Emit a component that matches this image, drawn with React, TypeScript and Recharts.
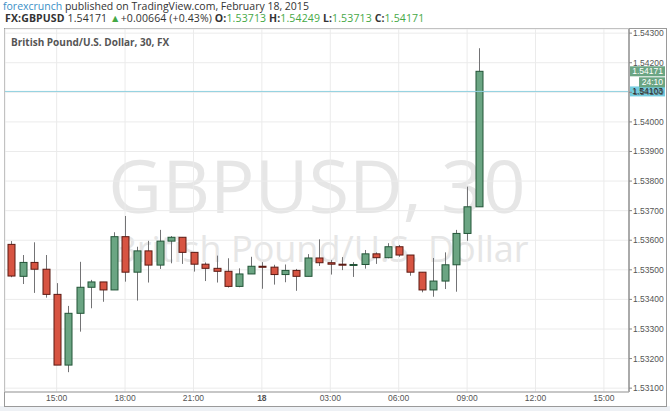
import React from "react";
import { ComposedChart, Bar, XAxis, YAxis, CartesianGrid, ReferenceLine } from "recharts";

// 30 minute candles, Feb 17 13:00 -> Feb 18 09:30
const times = [
  "13:00", "13:30", "14:00", "14:30", "15:00", "15:30", "16:00", "16:30", "17:00", "17:30",
  "18:00", "18:30", "19:00", "19:30", "20:00", "20:30", "21:00", "21:30", "22:00", "22:30",
  "23:00", "23:30", "00:00", "00:30", "01:00", "01:30", "02:00", "02:30", "03:00", "03:30",
  "04:00", "04:30", "05:00", "05:30", "06:00", "06:30", "07:00", "07:30", "08:00", "08:30",
  "09:00", "09:30",
];

const open = [
  1.53586, 1.53478, 1.53525, 1.53502, 1.53417, 1.53178, 1.53353, 1.53441, 1.53459, 1.53432,
  1.53612, 1.53492, 1.53564, 1.53516, 1.53597, 1.5361, 1.53559, 1.53519, 1.53505, 1.53495,
  1.53444, 1.53486, 1.53512, 1.53509, 1.53484, 1.53498, 1.53478, 1.5354, 1.53524, 1.53519,
  1.53516, 1.53518, 1.53554, 1.53541, 1.53578, 1.5355, 1.53492, 1.53432, 1.53462, 1.53517,
  1.53623, 1.53713,
];
const high = [
  1.53597, 1.5355, 1.53593, 1.5355, 1.53455, 1.53378, 1.53527, 1.53466, 1.53459, 1.53627,
  1.53682, 1.53578, 1.53598, 1.53635, 1.53614, 1.5361, 1.53559, 1.53525, 1.53548, 1.53539,
  1.53505, 1.53544, 1.53526, 1.53517, 1.53518, 1.53503, 1.53553, 1.53603, 1.53533, 1.53543,
  1.53526, 1.53567, 1.53559, 1.5359, 1.53584, 1.5355, 1.53492, 1.5354, 1.53559, 1.53635,
  1.53781, 1.54249,
];
const low = [
  1.53475, 1.53452, 1.53422, 1.53406, 1.53178, 1.53154, 1.53291, 1.5337, 1.53392, 1.53432,
  1.5346, 1.53396, 1.53457, 1.53503, 1.53522, 1.5352, 1.53494, 1.53462, 1.53457, 1.5344,
  1.53441, 1.53486, 1.53436, 1.5345, 1.53458, 1.53429, 1.53478, 1.53513, 1.53484, 1.53499,
  1.53476, 1.53504, 1.5352, 1.53539, 1.53544, 1.5348, 1.53424, 1.53409, 1.53435, 1.53426,
  1.53598, 1.53713,
];
const close = [
  1.53479, 1.53525, 1.53502, 1.53417, 1.53178, 1.53353, 1.53441, 1.53459, 1.53432, 1.53612,
  1.53492, 1.53564, 1.53516, 1.53597, 1.5361, 1.53559, 1.53519, 1.53505, 1.53495, 1.53444,
  1.53486, 1.53512, 1.53509, 1.53484, 1.53498, 1.53478, 1.5354, 1.53524, 1.53519, 1.53516,
  1.53518, 1.53554, 1.53541, 1.53578, 1.5355, 1.53492, 1.53432, 1.53462, 1.53517, 1.53623,
  1.53713, 1.54171,
];

const xTickIdx = [4, 10, 16, 22, 28, 34, 40, 46, 52];
const xTickLabels = ["15:00", "18:00", "21:00", "18", "03:00", "06:00", "09:00", "12:00", "15:00"];
const yTicks = [1.531, 1.532, 1.533, 1.534, 1.535, 1.536, 1.537, 1.538, 1.539, 1.54, 1.541, 1.542, 1.543];

const bidPrice = 1.54103;
const lastPrice = 1.54171;
const countdown = "24:10";

const UP = "#6ba583";
const DOWN = "#d75442";

const data = times.map((t, i) => ({
  i,
  time: t,
  open: open[i],
  high: high[i],
  low: low[i],
  close: close[i],
  range: [low[i], high[i]],
}));

const Candle = (props: any) => {
  const { x, y, width, height, payload } = props;
  if (!payload || height == null) return null;
  const { open: o, close: c, high: h, low: l } = payload;
  const k = height / (h - l);
  const py = (p: number) => y + (h - p) * k;
  const up = c >= o;
  const cx = Math.round(x + width / 2) + 0.5;
  const top = py(Math.max(o, c));
  const bot = py(Math.min(o, c));
  return (
    <g>
      <line x1={cx} x2={cx} y1={y} y2={y + height} stroke="#737375" strokeWidth={1} />
      <rect
        x={cx - 3.5}
        y={top}
        width={7}
        height={Math.max(bot - top, 1)}
        fill={up ? UP : DOWN}
        stroke={up ? "#225437" : "#5b1a13"}
        strokeWidth={1}
      />
    </g>
  );
};

const XTick = ({ x, y, payload }: any) => {
  const label = xTickLabels[xTickIdx.indexOf(payload.value)];
  return (
    <text
      x={x}
      y={y + 9}
      textAnchor="middle"
      fontSize={8.5}
      fill="#555"
      fontFamily="'Liberation Sans', Arial, sans-serif"
      fontWeight={label === "18" ? "bold" : "normal"}
    >
      {label}
    </text>
  );
};

// price badge drawn on the right axis
const badge = (value: string, fill: string, color: string, extra?: string) => (p: any) => {
  const vb = p.viewBox;
  const bx = vb.x + vb.width;
  const by = vb.y;
  return (
    <g>
      <rect x={bx + 1} y={by - 5} width={35} height={10} fill={fill} />
      <text x={bx + 34} y={by + 3} textAnchor="end" fontSize={8.5} fill={color}
        fontFamily="'Liberation Sans', Arial, sans-serif">
        {value}
      </text>
      {extra && (
        <g>
          <rect x={bx + 10} y={by + 6} width={26} height={10} fill={fill} />
          <text x={bx + 34} y={by + 14} textAnchor="end" fontSize={8.5} fill={color}
            fontFamily="'Liberation Sans', Arial, sans-serif">
            {extra}
          </text>
        </g>
      )}
    </g>
  );
};

export default function App() {
  const green = "#45a845";
  return (
    <div
      style={{
        position: "absolute",
        left: 0,
        top: 0,
        width: 670,
        height: 411,
        background: "#fff",
        overflow: "hidden",
        fontFamily: "'Open Sans', sans-serif",
        color: "#333",
      }}
    >
      <div style={{ position: "absolute", left: 3, top: 0, fontSize: 10.5, lineHeight: "13px", whiteSpace: "nowrap" }}>
        <span style={{ color: "#3a8fc7" }}>forexcrunch</span> published on TradingView.com, February 18, 2015
      </div>
      <div style={{ position: "absolute", left: 5, top: 12, fontSize: 10.5, lineHeight: "13px", letterSpacing: 0.13, whiteSpace: "nowrap" }}>
        <b>FX:GBPUSD</b> 1.54171 <span style={{ color: green }}>▲</span>+0.00664 (+0.43%){" "}
        <b>O:</b><span style={{ color: green }}>1.53713</span> <b>H:</b><span style={{ color: green }}>1.54249</span>{" "}
        <b>L:</b><span style={{ color: green }}>1.53713</span> <b>C:</b><span style={{ color: green }}>1.54171</span>
      </div>

      <div style={{ position: "absolute", left: 0, top: 406, width: 670, height: 5, background: "#eef1f5" }} />

      {/* watermark */}
      <svg style={{ position: "absolute", left: 0, top: 0 }} width={670} height={411}>
        <text x={317} y={213} textAnchor="middle" fontSize={74} fill="#e6e6e6" fontFamily="'Open Sans', sans-serif">
          GBPUSD, 30
        </text>
        <text x={321} y={262} textAnchor="middle" fontSize={36} fill="#e6e6e6" fontFamily="'Open Sans', sans-serif">
          British Pound/U.S. Dollar
        </text>
      </svg>

      <div
        style={{
          position: "absolute",
          left: 4,
          top: 28,
          width: 663,
          height: 379,
          border: "1px solid #9a9a9a",
          boxSizing: "border-box",
        }}
      />

      <div style={{ position: "absolute", left: 4, top: 28 }}>
        <ComposedChart width={663} height={379} data={data} margin={{ top: 1, right: 1, bottom: 1, left: 1 }}>
          <CartesianGrid stroke="#ebebeb" />
          <XAxis
            dataKey="i"
            type="number"
            domain={[-0.53, 54.2]}
            ticks={xTickIdx}
            interval={0}
            allowDataOverflow
            height={14}
            tickSize={0}
            tickMargin={0}
            axisLine={{ stroke: "#999" }}
            tick={<XTick />}
          />
          <YAxis
            orientation="right"
            type="number"
            width={37}
            domain={[1.53087, 1.54314]}
            ticks={yTicks}
            interval={0}
            allowDataOverflow
            tickSize={3}
            tickMargin={1}
            tickFormatter={(v: number) => v.toFixed(5)}
            axisLine={{ stroke: "#aaa", strokeWidth: 2 }}
            tickLine={{ stroke: "#888" }}
            tick={{ fontSize: 8.5, fill: "#555", fontFamily: "'Liberation Sans', Arial, sans-serif" }}
          />
          <ReferenceLine y={bidPrice} stroke="#8fd0df" label={badge(bidPrice.toFixed(5), "#74cde0", "#222")} />
          <ReferenceLine y={lastPrice} strokeOpacity={0} label={badge(lastPrice.toFixed(5), UP, "#fff", countdown)} />
          <Bar dataKey="range" barSize={8} shape={Candle} isAnimationActive={false} />
        </ComposedChart>
      </div>

      <div style={{ position: "absolute", left: 11, top: 35, fontSize: 10, fontWeight: "bold", color: "#555", whiteSpace: "nowrap" }}>
        British Pound/U.S. Dollar, 30, FX
      </div>
    </div>
  );
}
